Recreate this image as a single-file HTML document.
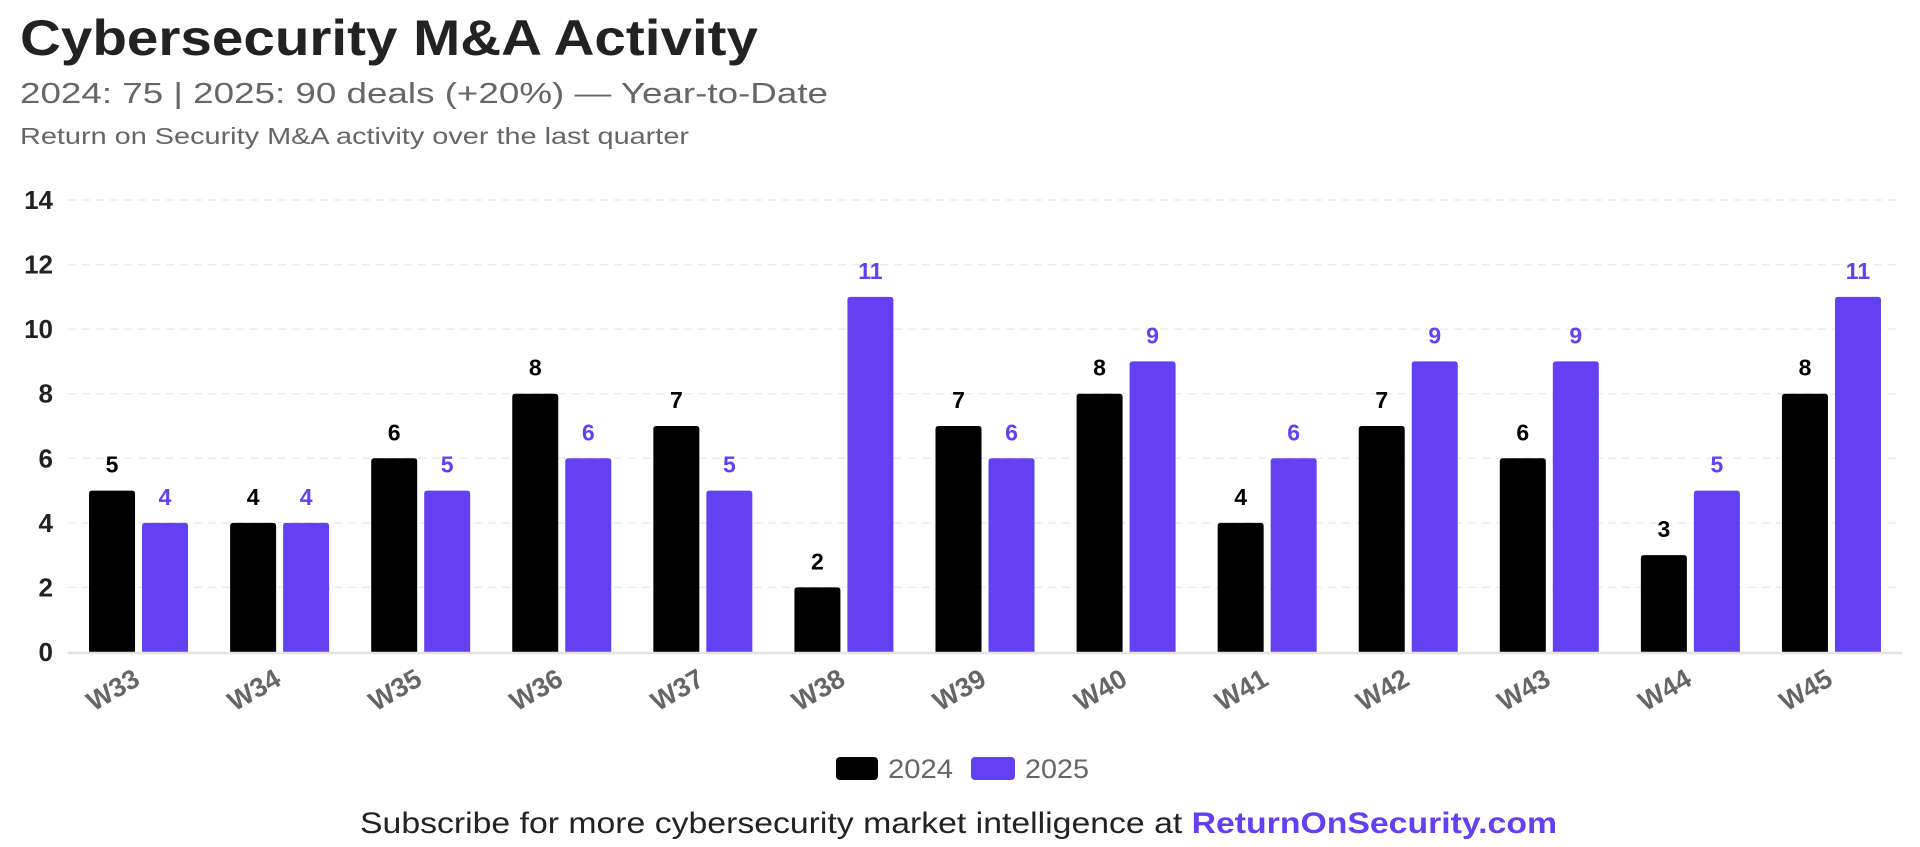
<!DOCTYPE html>
<html><head><meta charset="utf-8"><style>
html,body{margin:0;padding:0;background:#fff;}
svg{display:block;font-family:"Liberation Sans",Arial,sans-serif;}
</style></head><body>
<svg id="chart" width="1920" height="847" viewBox="0 0 1920 847">
<text x="20" y="55" font-size="50" font-weight="bold" fill="#222" textLength="738" lengthAdjust="spacingAndGlyphs">Cybersecurity M&amp;A Activity</text>
<text x="20" y="103" font-size="29" fill="#666" textLength="808" lengthAdjust="spacingAndGlyphs">2024: 75 | 2025: 90 deals (+20%) — Year-to-Date</text>
<text x="20" y="144" font-size="23" fill="#666" textLength="669" lengthAdjust="spacingAndGlyphs">Return on Security M&amp;A activity over the last quarter</text>
<g id="grid"></g>
<g id="yaxis"></g>
<g id="bars"></g>
<g id="xaxis"></g>
<g>
<rect x="836" y="757" width="42" height="23" rx="4" fill="#000"/>
<text x="888" y="778" font-size="27" fill="#666" textLength="65" lengthAdjust="spacingAndGlyphs">2024</text>
<rect x="971" y="757" width="44" height="23" rx="4" fill="#6340F2"/>
<text x="1025" y="778" font-size="27" fill="#666" textLength="64" lengthAdjust="spacingAndGlyphs">2025</text>
</g>
<text x="360" y="833" font-size="30" fill="#222" textLength="1197" lengthAdjust="spacingAndGlyphs">Subscribe for more cybersecurity market intelligence at <tspan font-weight="bold" fill="#6340F2">ReturnOnSecurity.com</tspan></text>
</svg>
<script>
const categories = ["W33","W34","W35","W36","W37","W38","W39","W40","W41","W42","W43","W44","W45"];
const series2024 = [5,4,6,8,7,2,7,8,4,7,6,3,8];
const series2025 = [4,4,5,6,5,11,6,9,6,9,9,5,11];
const yTicks = [0,2,4,6,8,10,12,14];
const NS = "http://www.w3.org/2000/svg";
const X0 = 68, X1 = 1902, Y0 = 652, YTOP = 200, YMAX = 14;
const band = (X1 - X0) / categories.length;
const barW = 46, gap = 7;
function yScale(v){ return Y0 - (v / YMAX) * (Y0 - YTOP); }
function xCenter(i){ return X0 + band * (i + 0.5); }
function mk(tag, attrs, parent){ const e = document.createElementNS(NS, tag); for (const k in attrs) e.setAttribute(k, attrs[k]); parent.appendChild(e); return e; }
const grid = document.getElementById('grid'), yaxis = document.getElementById('yaxis'), bars = document.getElementById('bars'), xaxis = document.getElementById('xaxis');
yTicks.forEach(t => {
  const y = yScale(t);
  if (t > 0) {
    const l = mk('line', {x1: X0, x2: X1, y1: y, y2: y, stroke: '#ececec', 'stroke-width': 1.5, 'stroke-dasharray': '8 6'}, grid);
    
    
  }
  const tx = mk('text', {x: 53, y: y + 9, 'text-anchor': 'end', 'font-size': 26, 'font-weight': 'bold', fill: '#222'}, yaxis);
  tx.textContent = t;
  
  
});
const base = mk('line', {x1: X0, x2: X1, y1: Y0 + 1, y2: Y0 + 1, stroke: '#e3e3e6', 'stroke-width': 2.5}, xaxis);


categories.forEach((c, i) => {
  const cx = xCenter(i);
  [[series2024[i], '#000', cx - gap/2 - barW, '2024'], [series2025[i], '#6340F2', cx + gap/2, '2025']].forEach(([v, col, x, s]) => {
    const y = yScale(v);
    const r = mk('path', {d: `M${x},${Y0} V${y+3} Q${x},${y} ${x+3},${y} H${x+barW-3} Q${x+barW},${y} ${x+barW},${y+3} V${Y0} Z`, fill: col}, bars);
    
    
    const lb = mk('text', {x: x + barW/2, y: y - 18, 'text-anchor': 'middle', 'font-size': 23, 'font-weight': 'bold', fill: col}, bars);
    lb.textContent = v;
    
    
  });
  const xl = mk('text', {x: cx + 3, y: 684, 'text-anchor': 'end', 'font-size': 27, 'font-weight': 'bold', fill: '#666', transform: `rotate(-30 ${cx + 3} 684)`}, xaxis);
  xl.textContent = c;
  
  
});
</script>
</body></html>
